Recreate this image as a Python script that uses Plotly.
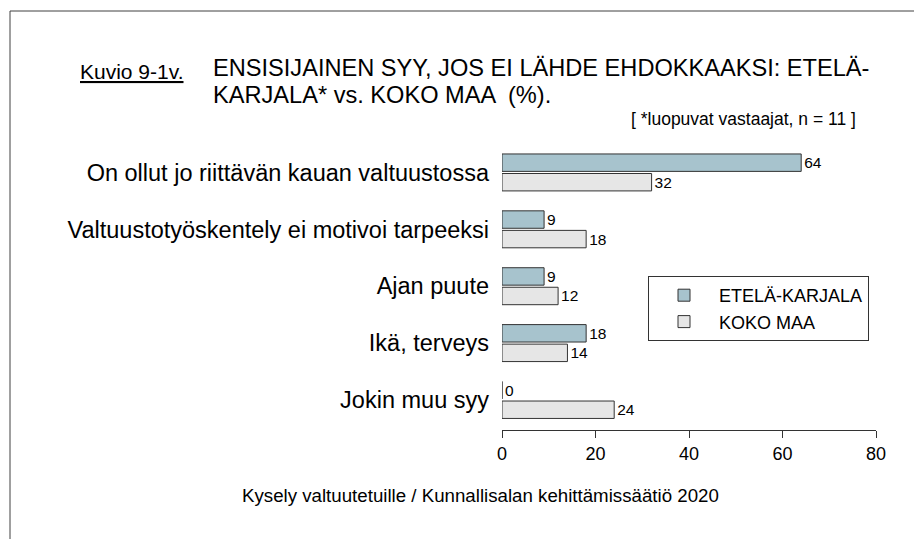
import plotly.graph_objects as go

categories = [
    "On ollut jo riittävän kauan valtuustossa",
    "Valtuustotyöskentely ei motivoi tarpeeksi",
    "Ajan puute",
    "Ikä, terveys",
    "Jokin muu syy",
]
etela_karjala = [64, 9, 9, 18, 0]
koko_maa = [32, 18, 12, 14, 24]
series_names = ["ETELÄ-KARJALA", "KOKO MAA"]
x_ticks = [0, 20, 40, 60, 80]

FONT = "Arial, Liberation Sans, sans-serif"
W, H = 922, 539
OFF = 8  # page body margin
# plot area in page pixels: x 502..876, y 144..430
L = 502 - OFF
R = W - (876 - OFF)
T = 144 - OFF
B = H - (430 - OFF)
PW, PH = W - L - R, H - T - B


def px(x):
    return (x - OFF - L) / PW


def py(y):
    return (H - B - (y - OFF)) / PH


fig = go.Figure()
fig.add_trace(go.Bar(
    y=categories, x=etela_karjala, name=series_names[0], orientation="h",
    marker=dict(color="#a7c3cd", line=dict(color="#333333", width=1)),
    text=[str(v) for v in etela_karjala], textposition="outside",
    textfont=dict(family=FONT, size=15.5, color="#000000"), cliponaxis=False,
))
fig.add_trace(go.Bar(
    y=categories, x=koko_maa, name=series_names[1], orientation="h",
    marker=dict(color="#e6e6e6", line=dict(color="#333333", width=1)),
    text=[str(v) for v in koko_maa], textposition="outside",
    textfont=dict(family=FONT, size=15.5, color="#000000"), cliponaxis=False,
))

annotations = [
    dict(text="<u>Kuvio 9-1v.</u>", x=px(78), y=py(71), xanchor="left", yanchor="middle",
         font=dict(size=21)),
    dict(text="ENSISIJAINEN SYY, JOS EI LÄHDE EHDOKKAAKSI: ETELÄ-", x=px(211), y=py(68),
         xanchor="left", yanchor="middle", font=dict(size=23.6)),
    dict(text="KARJALA* vs. KOKO MAA  (%).", x=px(211), y=py(95),
         xanchor="left", yanchor="middle", font=dict(size=23.6)),
    dict(text="[ *luopuvat vastaajat, n = 11 ]", x=px(858), y=py(119),
         xanchor="right", yanchor="middle", font=dict(size=17.5)),
    dict(text="Kysely valtuutetuille / Kunnallisalan kehittämissäätiö 2020", x=px(480), y=py(495),
         xanchor="center", yanchor="middle", font=dict(size=18.7)),
]
for a in annotations:
    a.update(xref="paper", yref="paper", showarrow=False)
    a["font"].update(family=FONT, color="#000000")

shapes = [
    dict(type="line", xref="paper", yref="paper", x0=px(10), x1=px(960), y0=py(11), y1=py(11),
         line=dict(color="#404040", width=1)),
    dict(type="line", xref="paper", yref="paper", x0=px(10), x1=px(10), y0=py(11), y1=py(580),
         line=dict(color="#404040", width=1)),
]

fig.update_layout(
    width=W, height=H,
    margin=dict(l=L, r=R, t=T, b=B, autoexpand=False),
    paper_bgcolor="white", plot_bgcolor="white",
    barmode="group", bargap=0.313, bargroupgap=0.108,
    font=dict(family=FONT, color="#000000"),
    showlegend=True,
    legend=dict(
        x=px(648), y=py(276), xanchor="left", yanchor="top",
        bgcolor="white", bordercolor="#333333", borderwidth=1,
        font=dict(family=FONT, size=18, color="#000000"),
        traceorder="normal", itemwidth=60,
    ),
    xaxis=dict(
        range=[0, 80], tickvals=x_ticks, showgrid=False, zeroline=False,
        showline=True, linecolor="#333333", linewidth=1,
        ticks="outside", ticklen=7, tickcolor="#333333",
        tickfont=dict(family=FONT, size=18, color="#000000"),
    ),
    yaxis=dict(
        categoryorder="array", categoryarray=categories,
        range=[4.528, -0.5], showgrid=False, zeroline=False, showline=False,
        ticks="", ticklabelstandoff=12,
        tickfont=dict(family=FONT, size=23.5, color="#000000"),
    ),
    annotations=annotations, shapes=shapes,
)

fig.write_html("out.html")
